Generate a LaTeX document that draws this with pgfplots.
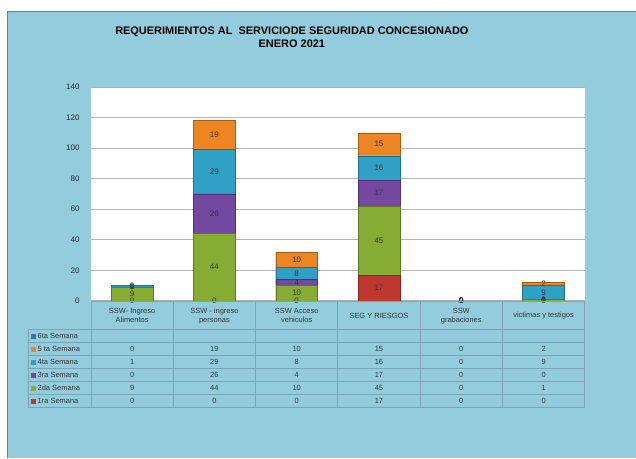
\documentclass[border=0pt]{standalone}
\usepackage{pgfplots}
\pgfplotsset{compat=1.18}
\usepackage{pgfplotstable}
\usepackage{fontspec}
\setmainfont{Liberation Sans}
\definecolor{bg}{HTML}{93CDDD}
\definecolor{c1}{HTML}{C0372F}
\definecolor{c2}{HTML}{86AC33}
\definecolor{c3}{HTML}{7248A0}
\definecolor{c4}{HTML}{2FA0C6}
\definecolor{c5}{HTML}{EC8522}
\definecolor{c6}{HTML}{3F6FB5}
\definecolor{gridc}{HTML}{B4B4B4}
\definecolor{tabc}{HTML}{7FA3B5}
\pgfplotstableread{
x w1 w2 w3 w4 w5
0 0 9 0 1 0
1 0 44 26 29 19
2 0 10 4 8 10
3 17 45 17 16 15
4 0 0 0 0 0
5 0 1 0 9 2
}\data
\pgfplotsset{
  commonaxis/.style={
    at={(91bp,157bp)}, anchor=south west, scale only axis,
    width=494bp, height=214bp,
    xmin=-0.5, xmax=5.5, ymin=0, ymax=140,
    /pgf/number format/assume math mode=true,
  },
  lbl/.style={only marks, mark=none, point meta=explicit,
    nodes near coords={\pgfmathprintnumber{\pgfplotspointmeta}},
    every node near coord/.style={anchor=center, inner sep=0pt,
      font=\fontsize{8}{9}\selectfont, text=black!80}},
}
\begin{document}
\begin{tikzpicture}
\begin{scope}[x=1bp,y=1bp]
\fill[white] (0,0) rectangle (636,458);
\fill[bg] (7,0) rectangle (636,447);
\draw[tabc!80!black, line width=0.6bp] (7,0) -- (7,447) -- (636,447);
\node[font=\bfseries\fontsize{11}{13}\selectfont, align=center] at (292,421)
  {REQUERIMIENTOS AL\ \ SERVICIODE SEGURIDAD CONCESIONADO\\ENERO 2021};
\end{scope}
\begin{axis}[commonaxis,
  ybar stacked, bar width=42bp,
  axis background/.style={fill=white},
  axis line style={draw=none},
  ytick={0,20,...,140}, xtick=\empty,
  ymajorgrids, grid style={gridc, line width=0.8bp},
  major tick length=0pt,
  yticklabel style={font=\fontsize{8}{9}\selectfont, xshift=-8bp, text=black!85},
]
\addplot[fill=c1, draw=c1!70!black] table[x=x,y=w1] {\data};
\addplot[fill=c2, draw=c2!70!black] table[x=x,y=w2] {\data};
\addplot[fill=c3, draw=c3!70!black] table[x=x,y=w3] {\data};
\addplot[fill=c4, draw=c4!70!black] table[x=x,y=w4] {\data};
\addplot[fill=c5, draw=c5!70!black] table[x=x,y=w5] {\data};
\end{axis}
\begin{axis}[commonaxis, hide axis]
\addplot[lbl] table[x=x, y expr=\thisrow{w1}/2, meta=w1] {\data};
\addplot[lbl] table[x=x, y expr=\thisrow{w1}+\thisrow{w2}/2, meta=w2] {\data};
\addplot[lbl] table[x=x, y expr=\thisrow{w1}+\thisrow{w2}+\thisrow{w3}/2, meta=w3] {\data};
\addplot[lbl] table[x=x, y expr=\thisrow{w1}+\thisrow{w2}+\thisrow{w3}+\thisrow{w4}/2, meta=w4] {\data};
\addplot[lbl] table[x=x, y expr=\thisrow{w1}+\thisrow{w2}+\thisrow{w3}+\thisrow{w4}+\thisrow{w5}/2, meta=w5] {\data};
\end{axis}
\begin{scope}[x=1bp,y=1bp]
% table grid
\draw[tabc, line width=0.7bp] (91,157) -- (585,157);
\foreach \yy in {128,115,102,89,76,63,50} \draw[tabc, line width=0.7bp] (28,\yy) -- (585,\yy);
\draw[tabc, line width=0.7bp] (28,128) -- (28,50);
\foreach \xx in {91,173.33,255.67,338,420.33,502.67,585} \draw[tabc, line width=0.7bp] (\xx,157) -- (\xx,50);
% header
\begin{scope}[every node/.style={font=\fontsize{7.5}{9}\selectfont, align=center, text=black!80}]
\node at (132.17,142) {SSW- Ingreso\\Alimentos};
\node at (214.5,142) {SSW - ingreso\\personas};
\node at (296.83,142) {SSW Acceso\\vehiculos};
\node at (379.17,142) {SEG Y RIESGOS};
\node at (461.5,142) {SSW\\grabaciones};
\node at (543.83,142) {victimas y testigos};
\end{scope}
% row labels
\begin{scope}[every node/.style={font=\fontsize{7.5}{9}\selectfont, anchor=west, text=black!80, inner sep=0pt}]
\foreach \yy/\cc/\tt in {121.5/c6/6ta Semana, 108.5/c5/5 ta Semana, 95.5/c4/4ta Semana, 82.5/c3/3ra Semana, 69.5/c2/2da Semana, 56.5/c1/1ra Semana}{
  \fill[\cc] (31,\yy-2.5) rectangle (36,\yy+2.5);
  \node at (37.5,\yy) {\tt};
}
\end{scope}
% values
\begin{scope}[every node/.style={font=\fontsize{7.5}{9}\selectfont, text=black!80, inner sep=0pt}]
\foreach \yy/\a/\b/\c/\d/\e/\f in {108.5/0/19/10/15/0/2, 95.5/1/29/8/16/0/9, 82.5/0/26/4/17/0/0, 69.5/9/44/10/45/0/1, 56.5/0/0/0/17/0/0}{
  \node at (132.17,\yy) {\a};
  \node at (214.5,\yy) {\b};
  \node at (296.83,\yy) {\c};
  \node at (379.17,\yy) {\d};
  \node at (461.5,\yy) {\e};
  \node at (543.83,\yy) {\f};
}
\end{scope}
\end{scope}
\end{tikzpicture}
\end{document}
